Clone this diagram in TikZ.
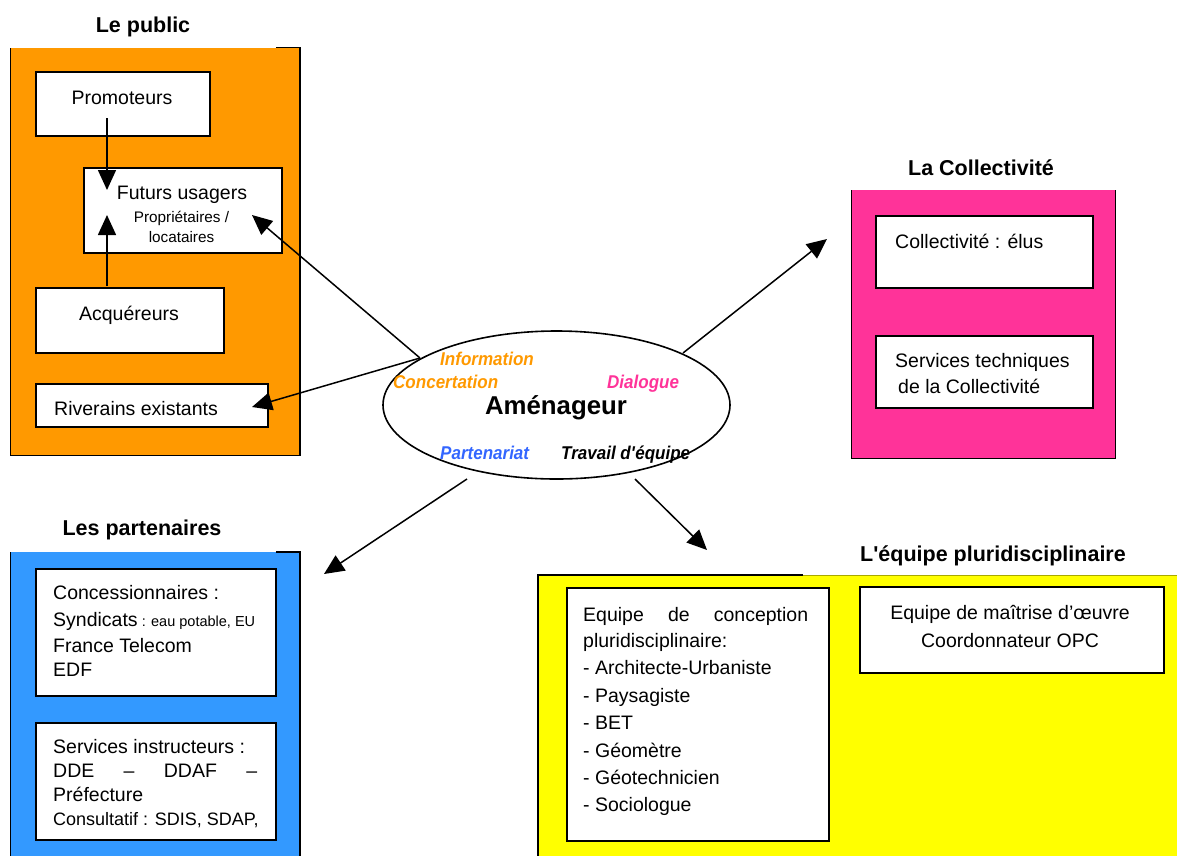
\documentclass[tikz,border=0pt]{standalone}
\usepackage{fontspec}
\setmainfont{Liberation Sans}
\newfontfamily\slimsans{Liberation Sans}[FakeStretch=0.92]
\usetikzlibrary{arrows.meta,shapes.geometric}

\definecolor{pubOrange}{HTML}{FF9900}
\definecolor{colPink}{HTML}{FF3399}
\definecolor{partBlue}{HTML}{3399FF}
\definecolor{eqYellow}{HTML}{FFFF00}
\definecolor{labBlue}{HTML}{3366FF}
\definecolor{edgeOlive}{HTML}{A8A800}

\newcommand{\fsz}[1]{\fontsize{#1}{#1}\selectfont}

\begin{document}
\begin{tikzpicture}[x=1pt,y=-1pt,
  whitebox/.style={draw=black, line width=1.5pt, fill=white, inner sep=0pt, anchor=north west},
  panel/.style={draw=none, inner sep=0pt, anchor=north west},
  rim/.style={line width=1.6pt, black},
  conn/.style={line width=1.5pt, -{Triangle[length=20pt,width=18pt]}},
  title/.style={font=\bfseries\fsz{21.5}, inner sep=0pt, anchor=base},
  txt/.style={font=\fsz{19.5}, inner sep=0pt, anchor=base west},
  ctxt/.style={font=\fsz{19.5}, inner sep=0pt, anchor=base},
  lab/.style={font=\slimsans\bfseries\itshape\fsz{18.5}, inner sep=0pt, anchor=base west}]

\useasboundingbox (0,0) rectangle (1177,855);
\clip (0,0) rectangle (1177,855);

% ---------- Le public ----------
\node[panel, fill=pubOrange, minimum width=289pt, minimum height=407.5pt] (pub) at (10.5,47.5) {};
\draw[rim] ([xshift=-24pt]pub.north east) -- (pub.north east) -- (pub.south east)
  -- (pub.south west) -- (pub.north west);
\node[title] (tPub) at (143,32) {Le public};

\node[whitebox, minimum width=174pt, minimum height=64pt] (promo) at (35,71) {};
\node[whitebox, minimum width=198pt, minimum height=85pt] (futurs) at (83,167) {};
\node[whitebox, minimum width=188pt, minimum height=65pt] (acq) at (35,287) {};
\node[whitebox, minimum width=232pt, minimum height=43pt] (riv) at (35,383) {};

\node[ctxt] (promoT) at (122,104) {Promoteurs};
\node[ctxt] (futursT) at (182,199) {Futurs usagers};
\node[ctxt, font=\fsz{15.3}] (futursA) at (181.5,222) {Propriétaires /};
\node[ctxt, font=\fsz{15.3}] (futursB) at (181.5,242) {locataires};
\node[ctxt] (acqT) at (129,320) {Acquéreurs};
\node[txt] (rivT) at (54,415) {Riverains existants};

% ---------- La Collectivité ----------
\node[panel, fill=colPink, minimum width=263.5pt, minimum height=268pt] (coll) at (851.5,190) {};
\draw[rim] (coll.north west) -- (coll.south west) -- (coll.south east) -- (coll.north east);
\node[title] (tColl) at (981,175) {La Collectivité};

\node[whitebox, minimum width=217pt, minimum height=72pt] (elus) at (875,215) {};
\node[whitebox, minimum width=217pt, minimum height=72pt] (serv) at (875,335) {};
\node[txt] (elusT) at (895,248) {Collectivité : élus};
\node[txt] (servA) at (895,367) {Services techniques};
\node[txt] (servB) at (898,393) {de la Collectivité};

% ---------- Les partenaires ----------
\node[panel, fill=partBlue, minimum width=289pt, minimum height=320pt] (part) at (10.5,552) {};
\draw[rim] ([xshift=-24pt]part.north east) -- (part.north east) -- (part.south east)
  -- (part.south west) -- (part.north west);
\node[title] (tPart) at (142,535) {Les partenaires};

\node[whitebox, minimum width=240pt, minimum height=127pt] (conc) at (35,568) {};
\node[whitebox, minimum width=240pt, minimum height=117pt] (instr) at (35,722) {};
\node[txt] (concA) at (53,599) {Concessionnaires :};
\node[txt] (concB) at (53,626) {Syndicats{\fsz{14.5} : eau potable, EU}};
\node[txt] (concC) at (53,652) {France Telecom};
\node[txt] (concD) at (53,676) {EDF};
\node[txt] (instrA) at (53,753) {Services instructeurs :};
\node[txt] (instrB) at (53,777) {\makebox[204pt][s]{DDE\hfill –\hfill DDAF\hfill –}};
\node[txt] (instrC) at (53,801) {Préfecture};
\node[txt, font=\fsz{18}] (instrD) at (53,825) {Consultatif : SDIS, SDAP,};

% ---------- L'équipe pluridisciplinaire ----------
\node[panel, fill=eqYellow, minimum width=652pt, minimum height=300pt] (equipe) at (538,575) {};
\draw[edgeOlive, line width=1pt] (equipe.north west) -- (equipe.north east);
\draw[rim] ([xshift=265pt]equipe.north west) -- (equipe.north west) -- (equipe.south west);
\node[title] (tEq) at (993,561) {L\textquotesingle équipe pluridisciplinaire};

\node[whitebox, minimum width=262pt, minimum height=253pt] (concep) at (566,587) {};
\node[whitebox, minimum width=304pt, minimum height=86pt] (moe) at (859,586) {};
\node[txt] (concepA) at (583,621) {\makebox[225pt][s]{Equipe\hfill de\hfill conception}};
\node[txt] (concepB) at (583,647) {pluridisciplinaire:};
\node[txt] (concepC) at (583,674) {- Architecte-Urbaniste};
\node[txt] (concepD) at (583,702) {- Paysagiste};
\node[txt] (concepE) at (583,729) {- BET};
\node[txt] (concepF) at (583,757) {- Géomètre};
\node[txt] (concepG) at (583,784) {- Géotechnicien};
\node[txt] (concepH) at (583,811) {- Sociologue};
\node[ctxt] (moeA) at (1010,619) {Equipe de maîtrise d’œuvre};
\node[ctxt] (moeB) at (1010,647) {Coordonnateur OPC};

% ---------- Aménageur ----------
\node[draw, ellipse, line width=1.6pt, minimum width=347pt, minimum height=148pt, inner sep=0pt]
  (amen) at (556.5,405) {};
\node[font=\bfseries\fsz{25.8}, inner sep=0pt, anchor=base] (amenT) at (556,414) {Aménageur};
\node[lab, text=pubOrange] (lInfo) at (440,365) {Information};
\node[lab, text=pubOrange] (lConc) at (393,388) {Concertation};
\node[lab, text=colPink] (lDial) at (607,388) {Dialogue};
\node[lab, text=labBlue] (lPart) at (440,459) {Partenariat};
\node[lab, text=black] (lTrav) at (561,459) {Travail d\textquotesingle équipe};

% ---------- connectors ----------
\coordinate (promoOut) at (107,118);
\coordinate (futursInTop) at (107,190);
\coordinate (acqOut) at (107,286);
\coordinate (futursInBot) at (107,215);
\coordinate (amenNW) at (420,358);
\coordinate (futursInRight) at (252,215);
\coordinate (rivIn) at (252,407);
\coordinate (amenNE) at (683,353);
\coordinate (collIn) at (827,239);
\coordinate (amenSW) at (467,479);
\coordinate (partIn) at (324,574);
\coordinate (amenSE) at (635,479);
\coordinate (equipeIn) at (707,550);

\draw[conn] (promoOut) -- (futursInTop);
\draw[conn] (acqOut) -- (futursInBot);
\draw[conn] (amenNW) -- (futursInRight);
\draw[conn] (amenNW) -- (rivIn);
\draw[conn] (amenNE) -- (collIn);
\draw[conn] (amenSW) -- (partIn);
\draw[conn] (amenSE) -- (equipeIn);
\end{tikzpicture}
\end{document}
